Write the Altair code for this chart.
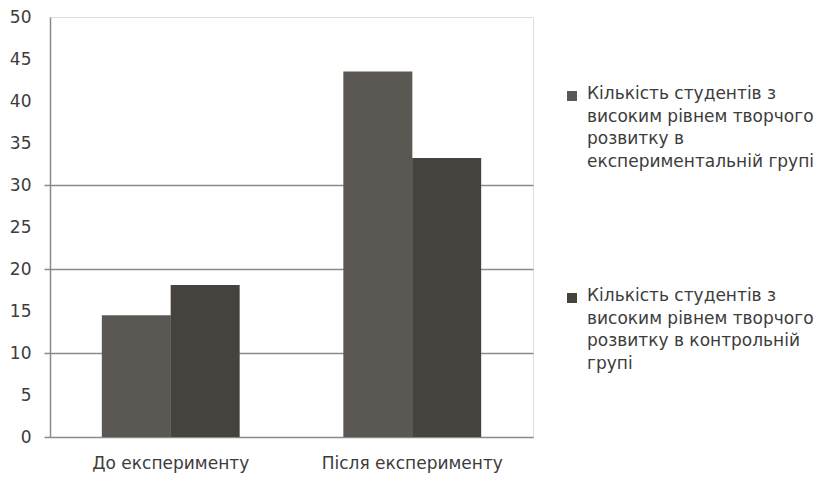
import altair as alt
import pandas as pd

# ---- data ----
categories = ["До експерименту", "Після експерименту"]
series_names = [
    "Кількість студентів з високим рівнем творчого розвитку в експериментальній групі",
    "Кількість студентів з високим рівнем творчого розвитку в контрольній групі",
]
legend_lines = [
    ["Кількість студентів з", "високим рівнем творчого", "розвитку в", "експериментальній групі"],
    ["Кількість студентів з", "високим рівнем творчого", "розвитку в контрольній", "групі"],
]
exp_values = [14.5, 43.5]
ctrl_values = [18.1, 33.2]
y_ticks = [0, 5, 10, 15, 20, 25, 30, 35, 40, 45, 50]
colors = ["#5b5753", "#46423e"]

rows = []
for i, c in enumerate(categories):
    rows.append({"period": c, "series": series_names[0], "value": exp_values[i]})
    rows.append({"period": c, "series": series_names[1], "value": ctrl_values[i]})
df = pd.DataFrame(rows)

FONT = "DejaVu Sans"
FS = 17
TXT = "#3c3c3c"
GRID = "#8a8a8a"

color_scale = alt.Scale(domain=series_names, range=colors)
grid_test = "datum.value == 0 || datum.value == 10 || datum.value == 20 || datum.value == 30"

bars = alt.Chart(df).mark_bar(size=69).encode(
    x=alt.X("period:N", sort=categories, title=None,
            scale=alt.Scale(paddingInner=0, paddingOuter=0),
            axis=alt.Axis(labelAngle=0, domain=False, ticks=False, labelPadding=18,
                          labelLimit=400,
                          labelFont=FONT, labelFontSize=FS, labelColor=TXT)),
    xOffset=alt.XOffset("series:N", sort=series_names,
                        scale=alt.Scale(paddingOuter=0.754, paddingInner=0)),
    y=alt.Y("value:Q", title=None,
            scale=alt.Scale(domain=[0, 50], nice=False),
            axis=alt.Axis(values=y_ticks, domainColor=GRID, domainWidth=1.5,
                          tickSize=6, tickColor=GRID, tickWidth=1.5,
                          tickOpacity={"condition": {"test": grid_test, "value": 1}, "value": 0},
                          grid=True, gridColor=GRID, gridWidth=1.5,
                          gridOpacity={"condition": {"test": grid_test, "value": 1}, "value": 0},
                          labelPadding=13, labelFont=FONT, labelFontSize=FS, labelColor=TXT)),
    color=alt.Color("series:N", scale=color_scale, legend=None),
)

legend_layers = []
legend_y = [69, 271]
for i, name in enumerate(series_names):
    ldf = pd.DataFrame({"series": [name], "label": ["\n".join(legend_lines[i])]})
    sq = alt.Chart(ldf).mark_square(size=100, opacity=1).encode(
        x=alt.value(522), y=alt.value(legend_y[i] + 10),
        color=alt.Color("series:N", scale=color_scale, legend=None),
    )
    tx = alt.Chart(ldf).mark_text(align="left", baseline="top", font=FONT, fontSize=FS,
                                  color=TXT, lineBreak="\n", lineHeight=22.5).encode(
        x=alt.value(537), y=alt.value(legend_y[i]), text="label:N"
    )
    legend_layers += [sq, tx]

chart = alt.layer(bars, *legend_layers).resolve_scale(color="shared").properties(
    width=483, height=420,
    autosize=alt.AutoSizeParams(type="none"),
    padding={"left": 50, "top": 17, "right": 292, "bottom": 40},
).configure_view(stroke=None).configure(background="white")

chart.save("out.html", embed_options={"renderer": "svg", "actions": False})
